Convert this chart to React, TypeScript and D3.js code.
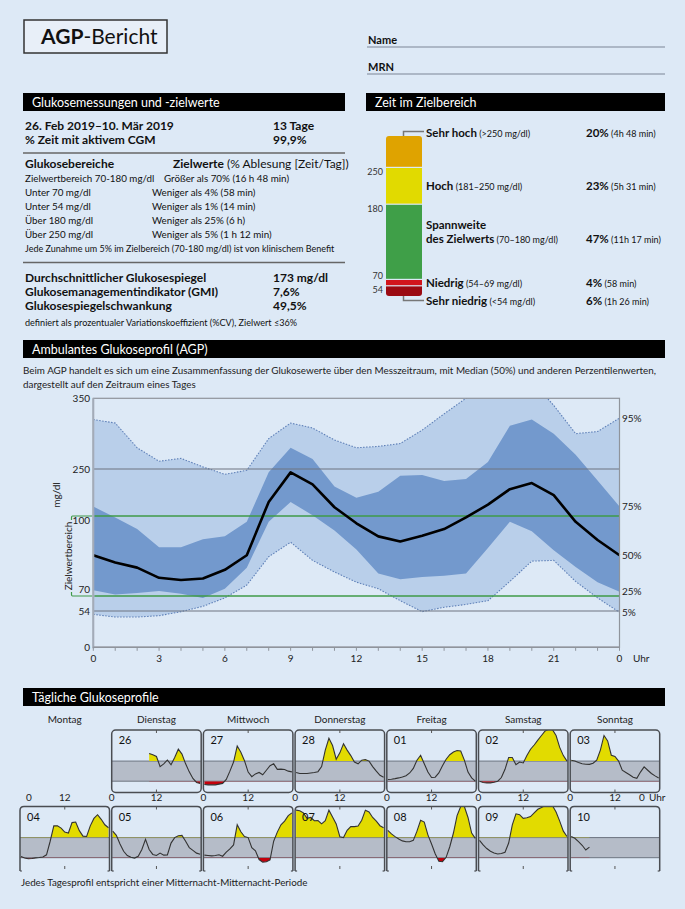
import React from "react";
import * as d3 from "d3";

const FONT = "Lato, 'Open Sans', sans-serif";
const BG = "#dde9f6";

// ---- AGP percentiles (mg/dl), hourly 0..24
const hours = [0, 1, 2, 3, 4, 5, 6, 7, 8, 9, 10, 11, 12, 13, 14, 15, 16, 17, 18, 19, 20, 21, 22, 23, 24];
const p5 = [49, 45, 45, 47, 53, 59, 68, 85, 124, 144, 119, 103, 89, 80, 65, 53, 58, 61, 65, 90, 118, 119, 90, 68, 52];
const p25 = [78, 72, 74, 77, 73, 68, 80, 109, 172, 201, 181, 160, 134, 101, 93, 96, 98, 101, 136, 172, 159, 133, 110, 89, 76];
const p50 = [126, 116, 109, 95, 92, 94, 106, 126, 201, 245, 227, 193, 170, 152, 145, 153, 162, 178, 197, 220, 229, 211, 172, 147, 126];
const p75 = [194, 178, 162, 137, 137, 148, 152, 172, 245, 280, 264, 224, 207, 216, 240, 241, 232, 235, 260, 311, 320, 300, 270, 233, 194];
const p95 = [320, 315, 280, 261, 265, 253, 242, 248, 293, 315, 308, 291, 280, 282, 286, 305, 328, 350, 370, 380, 375, 340, 300, 303, 322];
const yTickValues = [0, 54, 70, 180, 250, 350];
const yTickLabels = ["0", "54", "70", "100", "250", "350"];
const xTickLabels = [0, 3, 6, 9, 12, 15, 18, 21, 24];

// ---- time in range
const tirNames = ["Sehr niedrig", "Niedrig", "Spannweite des Zielwerts", "Hoch", "Sehr hoch"];
const tirRanges = ["(<54 mg/dl)", "(54–69 mg/dl)", "(70–180 mg/dl)", "(181–250 mg/dl)", "(>250 mg/dl)"];
const tirPct = [6, 4, 47, 23, 20];
const tirTimes = ["(1h 26 min)", "(58 min)", "(11h 17 min)", "(5h 31 min)", "(4h 48 min)"];
const tirColors = ["#9b0a12", "#d2151d", "#3f9f48", "#e1da00", "#dfa300"];
const tirLimits = ["54", "70", "180", "250"];

// ---- daily profiles (hourly, null = no data)
const weekDays = ["Montag", "Dienstag", "Mittwoch", "Donnerstag", "Freitag", "Samstag", "Sonntag"];
const day26 = [null, null, null, null, null, null, null, null, null, null, 222, 215, 205, 150, 165, 186, 160, 200, 245, 218, 165, 121, 85, 63, 58];
const day27 = [52, 50, 50, 50, 54, 58, 80, 125, 175, 262, 228, 182, 120, 95, 110, 118, 105, 130, 155, 165, 135, 136, 134, 125, 121];
const day28 = [118, 112, 112, 112, 115, 118, 122, 150, 240, 305, 265, 190, 225, 275, 240, 210, 175, 165, 185, 188, 180, 150, 125, 102, 92];
const day01 = [79, 81, 84, 88, 93, 100, 115, 140, 185, 212, 165, 120, 90, 92, 115, 155, 190, 215, 230, 238, 235, 185, 120, 88, 70];
const day02 = [70, 63, 61, 61, 64, 70, 90, 135, 200, 200, 160, 175, 170, 210, 245, 268, 295, 320, 345, 355, 352, 320, 255, 210, 180];
const day03 = [185, 180, 172, 165, 163, 162, 168, 185, 240, 320, 290, 212, 205, 180, 130, 118, 105, 92, 86, 120, 148, 130, 112, 99, 88];
const day04 = [76, 68, 64, 66, 69, 71, 74, 86, 160, 244, 245, 232, 210, 205, 262, 265, 218, 188, 186, 244, 285, 305, 280, 250, 234];
const day05 = [215, 192, 145, 105, 82, 72, 68, 78, 115, 170, 115, 88, 82, 95, 84, 85, 150, 180, 190, 192, 160, 125, 110, 95, 89];
const day06 = [84, 82, 80, 82, 86, 78, 100, 118, 140, 250, 212, 186, 180, 125, 108, 60, 46, 48, 58, 160, 210, 250, 270, 300, 315];
const day07 = [330, 327, 315, 285, 290, 272, 273, 255, 272, 330, 292, 255, 185, 180, 220, 240, 240, 243, 275, 330, 320, 290, 270, 245, 234];
const day08 = [220, 200, 185, 172, 162, 157, 157, 165, 215, 275, 265, 195, 145, 92, 50, 48, 72, 130, 205, 300, 350, 350, 290, 205, 176];
const day09 = [165, 140, 120, 105, 96, 90, 93, 100, 150, 250, 310, 305, 285, 288, 295, 315, 335, 345, 355, 355, 355, 320, 270, 215, 186];
const day10 = [186, 176, 158, 138, 112, 128, null, null, null, null, null, null, null, null, null, null, null, null, null, null, null, null, null, null, null];
const dayLabels = ["26", "27", "28", "01", "02", "03", "04", "05", "06", "07", "08", "09", "10"];
const dayValues = [day26, day27, day28, day01, day02, day03, day04, day05, day06, day07, day08, day09, day10];

const SectionBar = ({ x, y, w, title }: any) => (
  <g>
    <rect x={x} y={y} width={w} height={18} fill="#000" />
    <text x={x + 9} y={y + 13.5} fill="#fff" fontSize={12.5}>{title}</text>
  </g>
);

const Header = () => (
  <g>
    <rect x={24} y={20} width={143} height={33} fill="#e8eff8" stroke="#333" strokeWidth={1.5} />
    <text x={41} y={44} fontSize={21} fill="#111">
      <tspan fontWeight="bold">AGP</tspan>-Bericht
    </text>
    <text x={368} y={44} fontSize={11} fontWeight="bold" fill="#111">Name</text>
    <line x1={367} x2={665} y1={47} y2={47} stroke="#9ba6b6" strokeWidth={1.5} />
    <text x={368} y={71} fontSize={11} fontWeight="bold" fill="#111">MRN</text>
    <line x1={367} x2={665} y1={74} y2={74} stroke="#9ba6b6" strokeWidth={1.5} />
  </g>
);

const Measurements = () => {
  const rows = [
    ["Zielwertbereich 70-180 mg/dl", "Größer als 70% (16 h 48 min)"],
    ["Unter 70 mg/dl", "Weniger als 4% (58 min)"],
    ["Unter 54 mg/dl", "Weniger als 1% (14 min)"],
    ["Über 180 mg/dl", "Weniger als 25% (6 h)"],
    ["Über 250 mg/dl", "Weniger als 5% (1 h 12 min)"],
  ];
  const stats = [
    ["Durchschnittlicher Glukosespiegel", "173 mg/dl"],
    ["Glukosemanagementindikator (GMI)", "7,6%"],
    ["Glukosespiegelschwankung", "49,5%"],
  ];
  return (
    <g fill="#111">
      <SectionBar x={23} y={93} w={322} title="Glukosemessungen und -zielwerte" />
      <text x={25} y={130} fontSize={12} fontWeight="bold">26. Feb 2019–10. Mär 2019</text>
      <text x={273} y={130} fontSize={12} fontWeight="bold">13 Tage</text>
      <text x={25} y={143.5} fontSize={12} fontWeight="bold">% Zeit mit aktivem CGM</text>
      <text x={273} y={143.5} fontSize={12} fontWeight="bold">99,9%</text>
      <line x1={23} x2={345} y1={153} y2={153} stroke="#666" strokeWidth={1.5} />
      <text x={25} y={167.5} fontSize={12} fontWeight="bold">Glukosebereiche</text>
      <text x={173} y={167.5} fontSize={12}>
        <tspan fontWeight="bold">Zielwerte</tspan> (% Ablesung [Zeit/Tag])
      </text>
      {rows.map((r, i) => (
        <g key={i}>
          <text x={25} y={182 + i * 14.1} fontSize={9.8}>{r[0]}</text>
          <text x={i === 0 ? 164 : 152} y={182 + i * 14.1} fontSize={9.8}>{r[1]}</text>
        </g>
      ))}
      <text x={25} y={252} fontSize={9}>
        Jede Zunahme um 5% im Zielbereich (70-180 mg/dl) ist von klinischem Benefit
      </text>
      <line x1={23} x2={345} y1={262.5} y2={262.5} stroke="#666" strokeWidth={1.5} />
      {stats.map((s, i) => (
        <g key={i}>
          <text x={25} y={282 + i * 13.8} fontSize={12} fontWeight="bold">{s[0]}</text>
          <text x={273} y={282 + i * 13.8} fontSize={12} fontWeight="bold">{s[1]}</text>
        </g>
      ))}
      <text x={25} y={325.5} fontSize={9.1}>
        definiert als prozentualer Variationskoeffizient (%CV), Zielwert ≤36%
      </text>
    </g>
  );
};

const TimeInRange = () => {
  const y = d3.scaleLinear().domain([0, 100]).range([296, 136]);
  const cum = tirPct.map((_, i) => d3.sum(tirPct.slice(0, i)));
  const bx = 386;
  const bw = 36;
  const labelY = (i: number) => {
    const y0 = y(cum[i]);
    const y1 = y(cum[i] + tirPct[i]);
    if (i === 0) return y0 + 8.5;
    if (i === 4) return y1 + 1;
    return (y0 + y1) / 2 + 4;
  };
  return (
    <g fill="#111">
      <SectionBar x={366} y={93} w={299} title="Zeit im Zielbereich" />
      <clipPath id="tirClip">
        <rect x={bx} y={y(100)} width={bw} height={y(0) - y(100)} rx={3} />
      </clipPath>
      <g clipPath="url(#tirClip)">
        {tirPct.map((p, i) => (
          <rect key={i} x={bx} width={bw} y={y(cum[i] + p)} height={y(cum[i]) - y(cum[i] + p) - (i === 0 ? 0 : 1.2)}
            fill={tirColors[i]} />
        ))}
      </g>
      <path d={`M${bx + 17.5},${y(100)} V${y(100) - 4.5} H${bx + 38}`} fill="none" stroke="#777" strokeWidth={1.5} />
      <path d={`M${bx + 17.5},${y(0)} V${y(0) + 4.5} H${bx + 38}`} fill="none" stroke="#777" strokeWidth={1.5} />
      {tirLimits.map((t, i) => {
        const yy = y(cum[i + 1]);
        const below = i !== 1;
        return (
          <text key={t} x={383} y={below ? yy + 7 : yy - 1} fontSize={9} textAnchor="end" fill="#333">{t}</text>
        );
      })}
      {tirNames.map((n, i) => {
        const ly = labelY(i);
        if (i === 2) {
          return (
            <g key={n}>
              <text x={426} y={ly - 17} fontSize={11.5} fontWeight="bold">Spannweite</text>
              <text x={426} y={ly - 3} fontSize={11.5}>
                <tspan fontWeight="bold">des Zielwerts</tspan>
                <tspan fontSize={9}> {tirRanges[i]}</tspan>
              </text>
              <text x={586} y={ly - 3} fontSize={11.5}>
                <tspan fontWeight="bold">{tirPct[i]}%</tspan>
                <tspan fontSize={9}> {tirTimes[i]}</tspan>
              </text>
            </g>
          );
        }
        return (
          <g key={n}>
            <text x={426} y={ly} fontSize={11.5}>
              <tspan fontWeight="bold">{n}</tspan>
              <tspan fontSize={9}> {tirRanges[i]}</tspan>
            </text>
            <text x={586} y={ly} fontSize={11.5}>
              <tspan fontWeight="bold">{tirPct[i]}%</tspan>
              <tspan fontSize={9}> {tirTimes[i]}</tspan>
            </text>
          </g>
        );
      })}
    </g>
  );
};

const AGP = () => {
  const left = 93.3;
  const right = 619.5;
  const x = d3.scaleLinear().domain([0, 24]).range([left, right]);
  const y = d3.scaleLinear().domain([0, 54, 70, 180, 250, 350]).range([647.3, 611, 596, 516, 469, 398.3]);
  const top = y(350);
  const bottom = y(0);
  const idx = hours.map((_, i) => i);
  const band = (lo: number[], hi: number[]) =>
    d3.area<number>().x((i) => x(hours[i])).y0((i) => y(lo[i])).y1((i) => y(hi[i]))(idx) || "";
  const ln = (vals: number[]) => d3.line<number>().x((i) => x(hours[i])).y((i) => y(vals[i]))(idx) || "";
  const rightLabels: [string, number[]][] = [["95%", p95], ["75%", p75], ["50%", p50], ["25%", p25], ["5%", p5]];
  return (
    <g fill="#222">
      <SectionBar x={23} y={340} w={642} title="Ambulantes Glukoseprofil (AGP)" />
      <text x={23} y={373.5} fontSize={9.85}>
        Beim AGP handelt es sich um eine Zusammenfassung der Glukosewerte über den Messzeitraum, mit Median (50%) und anderen Perzentilenwerten,
      </text>
      <text x={23} y={387.5} fontSize={9.85}>dargestellt auf den Zeitraum eines Tages</text>
      <clipPath id="agpClip">
        <rect x={left} y={top} width={right - left} height={bottom - top} />
      </clipPath>
      <g clipPath="url(#agpClip)">
        <path d={band(p5, p95)} fill="#b9cfea" />
        <path d={band(p25, p75)} fill="#7399cd" />
        <path d={ln(p95)} fill="none" stroke="#5f80b8" strokeWidth={1.1} strokeDasharray="1.5,1.5" />
        <path d={ln(p5)} fill="none" stroke="#5f80b8" strokeWidth={1.1} strokeDasharray="1.5,1.5" />
      </g>
      {[250, 54].map((v) => (
        <line key={v} x1={left} x2={right} y1={y(v)} y2={y(v)} stroke="#6e7480" strokeWidth={1.2} />
      ))}
      <path d={`M${left + 1},${y(180)} H${right} M${left + 1},${y(70)} H${right}`} stroke="#3f9a48" strokeWidth={1.6} fill="none" />
      <path d={`M${left - 1},${y(180)} H72.5 Q71.5,${y(180)} 71.5,${y(180) + 1.5} V${y(180) + 4}`} stroke="#3f9a48" strokeWidth={1.2} fill="none" />
      <path d={`M${left - 1},${y(70)} H72.5 Q71.5,${y(70)} 71.5,${y(70) - 1.5} V${y(70) - 4}`} stroke="#3f9a48" strokeWidth={1.2} fill="none" />
      <path d={ln(p50)} fill="none" stroke="#000" strokeWidth={2.6} strokeLinejoin="round" />
      <rect x={left} y={top} width={right - left} height={bottom - top} fill="none" stroke="#8f949c" strokeWidth={1.2} />
      <line x1={left} x2={left} y1={top} y2={bottom + 1} stroke="#a3abb8" strokeWidth={2} />
      <line x1={left} x2={right} y1={bottom} y2={bottom} stroke="#8f949c" strokeWidth={1.5} />
      {hours.map((h) => (
        <line key={h} x1={x(h)} x2={x(h)} y1={bottom} y2={bottom + 3.5} stroke="#8f949c" strokeWidth={1} />
      ))}
      {yTickValues.map((v, i) => {
        const dy = v === 70 ? -3 : v === 180 ? 8 : 3.5;
        return (
          <text key={v} x={90} y={y(v) + dy} fontSize={10} textAnchor="end">{yTickLabels[i]}</text>
        );
      })}
      {xTickLabels.map((h) => (
        <text key={h} x={x(h)} y={662} fontSize={10} textAnchor="middle">{h % 24}</text>
      ))}
      <text x={633} y={662} fontSize={10}>Uhr</text>
      {rightLabels.map(([t, vals]) => (
        <text key={t} x={622} y={y(vals[vals.length - 1]) + 3.5} fontSize={10}>{t}</text>
      ))}
      <text transform={`translate(60,${495}) rotate(-90)`} fontSize={10} textAnchor="middle">mg/dl</text>
      <text transform={`translate(71.5,${(y(180) + y(70)) / 2}) rotate(-90)`} fontSize={10} textAnchor="middle">
        Zielwertbereich
      </text>
    </g>
  );
};

const PANEL_W = 89.5;
const PANEL_H = 62.5;
const COL_STEP = 91.7;
const COL0 = 20;
const ROW_TOPS = [730, 806.5];

const DayPanel = ({ col, row, label, values }: any) => {
  const left = COL0 + col * COL_STEP;
  const top = ROW_TOPS[row];
  const x = d3.scaleLinear().domain([0, 24]).range([left + 1, left + PANEL_W - 1]);
  const y = d3.scaleLinear().domain([0, 350]).range([top + 64, top]);
  const pts = hours.map((h, i) => ({ h, v: values[i] })).filter((d) => d.v != null);
  const areaHi = d3.area<any>().x((d) => x(d.h)).y0(y(180)).y1((d) => y(d.v))(pts) || "";
  const areaLo = d3.area<any>().x((d) => x(d.h)).y0(y(70)).y1((d) => y(d.v))(pts) || "";
  const path = d3.line<any>().x((d) => x(d.h)).y((d) => y(d.v))(pts) || "";
  const id = `dp${row}${col}`;
  const r = 4;
  const R = left + PANEL_W;
  const B = top + PANEL_H;
  const outline =
    row === 0
      ? null
      : `M${left},${B + 2} V${top + r} Q${left},${top} ${left + r},${top} H${R - r} Q${R},${top} ${R},${top + r} V${B + 2}`;
  return (
    <g>
      <clipPath id={`${id}a`}>
        <rect x={left} y={top} width={PANEL_W} height={y(180) - top} />
      </clipPath>
      <clipPath id={`${id}b`}>
        <rect x={left} y={y(70)} width={PANEL_W} height={B - y(70)} />
      </clipPath>
      <clipPath id={`${id}c`}>
        <rect x={left} y={top} width={PANEL_W} height={PANEL_H} />
      </clipPath>
      <rect x={left} y={y(180)} width={PANEL_W} height={y(70) - y(180)} fill="#b5bcc8" />
      <line x1={left} x2={R} y1={y(180)} y2={y(180)} stroke="#6d7480" strokeWidth={1} />
      <line x1={left} x2={R} y1={y(70)} y2={y(70)} stroke="#6d7480" strokeWidth={1} />
      <path d={areaHi} fill="#e2db00" clipPath={`url(#${id}a)`} />
      <path d={areaLo} fill="#c4000c" clipPath={`url(#${id}b)`} />
      <path d={path} fill="none" stroke="#333" strokeWidth={1.1} clipPath={`url(#${id}c)`} />
      {row === 0 ? (
        <rect x={left} y={top} width={PANEL_W} height={PANEL_H} rx={r} fill="none" stroke="#4a4d52" strokeWidth={1.5} />
      ) : (
        <g>
          <path d={outline || ""} fill="none" stroke="#4a4d52" strokeWidth={1.5} />
          <line x1={left} x2={left + 2} y1={B + 2} y2={B + 2} stroke="#4a4d52" strokeWidth={1.2} />
          <line x1={R} x2={R - 2} y1={B + 2} y2={B + 2} stroke="#4a4d52" strokeWidth={1.2} />
        </g>
      )}
      <line x1={x(12)} x2={x(12)} y1={top} y2={top + 3} stroke="#555" strokeWidth={1} />
      <line x1={x(12)} x2={x(12)} y1={B} y2={B - 3} stroke="#555" strokeWidth={1} />
      <text x={left + 7} y={top + 14} fontSize={11} fill="#111">{label}</text>
    </g>
  );
};

const Daily = () => {
  const slots = dayLabels.map((_, i) => {
    const n = i + 1;
    return { col: n % 7, row: Math.floor(n / 7) };
  });
  return (
    <g fill="#222">
      <SectionBar x={23} y={688} w={642} title="Tägliche Glukoseprofile" />
      {weekDays.map((d, i) => (
        <text key={d} x={COL0 + i * COL_STEP + PANEL_W / 2} y={723} fontSize={10} textAnchor="middle">{d}</text>
      ))}
      {weekDays.map((d, i) => (
        <g key={d}>
          <text x={COL0 + i * COL_STEP + (i === 0 ? 9 : 0)} y={801} fontSize={10} textAnchor="middle">0</text>
          <text x={COL0 + i * COL_STEP + PANEL_W / 2} y={801} fontSize={10} textAnchor="middle">12</text>
        </g>
      ))}
      <text x={642} y={801} fontSize={10} textAnchor="middle">0</text>
      <text x={649} y={801} fontSize={10}>Uhr</text>
      {dayLabels.map((l, i) => (
        <DayPanel key={l} col={slots[i].col} row={slots[i].row} label={l} values={dayValues[i]} />
      ))}
      <text x={21} y={886} fontSize={9.8}>Jedes Tagesprofil entspricht einer Mitternacht-Mitternacht-Periode</text>
    </g>
  );
};

export default function App() {
  return (
    <svg
      width={685}
      height={909}
      style={{ position: "absolute", left: 0, top: 0, background: BG }}
      fontFamily={FONT}
    >
      <rect width={685} height={909} fill={BG} />
      <Header />
      <Measurements />
      <TimeInRange />
      <AGP />
      <Daily />
    </svg>
  );
}
